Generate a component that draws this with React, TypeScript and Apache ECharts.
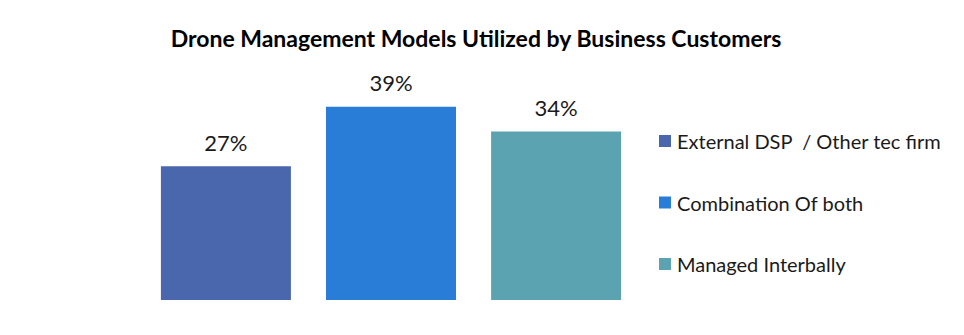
import React, { useEffect, useRef } from "react";
import * as echarts from "echarts";

const title = "Drone Management Models Utilized by Business Customers";
const categories = ["Drone Management Models"];
const seriesNames = ["External DSP  / Other tec firm", "Combination Of both", "Managed Interbally"];
const seriesValues = [27, 39, 34];
const seriesColors = ["#4A66AC", "#2A7DD6", "#5BA3B0"];

export default function App() {
  const ref = useRef<HTMLDivElement>(null);
  useEffect(() => {
    if (!ref.current) return;
    const chart = echarts.init(ref.current, undefined, { renderer: "svg" });
    const font = "Lato, 'Open Sans', sans-serif";
    chart.setOption({
      animation: false,
      backgroundColor: "#ffffff",
      title: {
        text: title,
        left: 471,
        textAlign: "center",
        top: 21,
        textStyle: { fontFamily: font, fontSize: 23, fontWeight: "bold", color: "#000000" },
      },
      legend: {
        orient: "vertical",
        left: 654,
        top: 126,
        itemWidth: 12,
        itemHeight: 12,
        itemGap: 41.5,
        icon: "rect",
        textStyle: { fontFamily: font, fontSize: 20, color: "#1a1a1a", lineHeight: 20, padding: [0, 0, 0, 1] },
        data: seriesNames,
      },
      grid: { left: 140, width: 502, top: 77, bottom: 35 },
      xAxis: {
        type: "category",
        data: categories,
        axisLine: { show: false },
        axisTick: { show: false },
        axisLabel: { show: false },
      },
      yAxis: {
        type: "value",
        min: 0,
        max: 45,
        show: false,
        splitLine: { show: false },
      },
      series: seriesNames.map((name, i) => ({
        name,
        type: "bar",
        data: [seriesValues[i]],
        barWidth: 130,
        barGap: "27%",
        itemStyle: { color: seriesColors[i] },
        label: {
          show: true,
          position: "top",
          distance: 13,
          formatter: "{c}%",
          fontFamily: font,
          fontSize: 22,
          color: "#1a1a1a",
        },
      })),
    });
    return () => chart.dispose();
  }, []);
  return (
    <div
      ref={ref}
      style={{ position: "absolute", left: 0, top: 0, width: 964, height: 335 }}
    />
  );
}
